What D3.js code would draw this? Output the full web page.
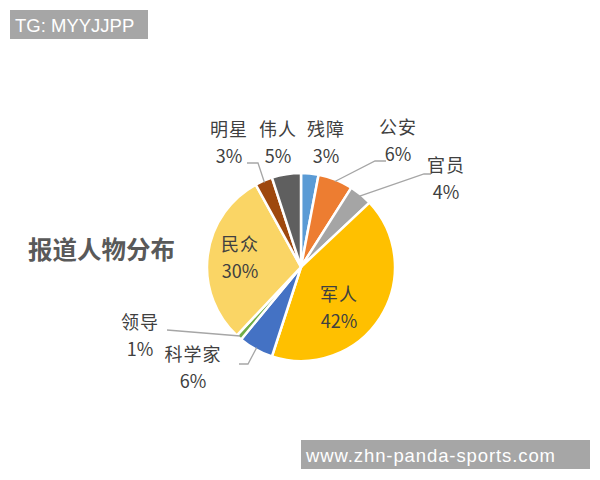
<!DOCTYPE html>
<html><head><meta charset="utf-8">
<script src="https://cdn.jsdelivr.net/npm/d3@7"></script>
<style>body{margin:0;background:#fff;}svg{display:block;}</style>
</head><body>
<svg id="c" width="600" height="480"></svg>
<script>
const categories = ["残障","公安","官员","军人","科学家","领导","民众","明星","伟人"];
const values = [3,6,4,42,6,1,30,3,5];
const colors = ["#5B9BD5","#ED7D31","#A5A5A5","#FFC000","#4472C4","#70AD47","#FAD565","#9E480E","#5F5F5F"];
const title = "报道人物分布";

// layout (not data): label anchor positions and leader-line bends
const layout = {
  "残障": {x:326, y:130, line:null},
  "公安": {x:398, y:128, line:[[386,161],[375,161]]},
  "官员": {x:446, y:166, line:[[431,174],[424,174]]},
  "军人": {x:339, y:295},
  "科学家": {x:193, y:355, line:[[239,364],[248,364]]},
  "领导": {x:140, y:323, line:[[167,330]]},
  "民众": {x:240, y:245},
  "明星": {x:229, y:130, line:[[247,163],[258,163]]},
  "伟人": {x:278, y:130, line:null}
};

const svg = d3.select("#c");
const cx = 301, cy = 267, R = 94;
const data = categories.map((c,i)=>({name:c, value:values[i], color:colors[i]}));
const pie = d3.pie().sort(null).value(d=>d.value);
const arcs = pie(data);
const arc = d3.arc().innerRadius(0).outerRadius(R);
const g = svg.append("g").attr("transform",`translate(${cx},${cy})`);
g.selectAll("path").data(arcs).join("path")
  .attr("d",arc).attr("fill",d=>d.data.color)
  .attr("stroke","#fff").attr("stroke-width",2.5).attr("stroke-linejoin","round");

// leader lines
arcs.forEach(a=>{
  const L = layout[a.data.name];
  if(!L || !L.line) return;
  const mid = (a.startAngle+a.endAngle)/2;
  const p = [cx + Math.sin(mid)*(R-2), cy - Math.cos(mid)*(R-2)];
  const pts = L.line.concat([p]);
  svg.append("path").attr("d", d3.line()(pts))
    .attr("fill","none").attr("stroke","#A6A6A6").attr("stroke-width",1.3);
});

// labels
const font = "'Noto Sans CJK SC','Microsoft YaHei',sans-serif";
arcs.forEach(a=>{
  const L = layout[a.data.name];
  const t = svg.append("text").attr("text-anchor","middle")
    .attr("font-family",font).attr("font-size",18).attr("fill","#404040");
  t.append("tspan").attr("x",L.x).attr("y",L.y+6).attr("letter-spacing",1).text(a.data.name);
  t.append("tspan").attr("x",L.x).attr("y",L.y+33).text(a.data.value+"%");
});

svg.append("text").attr("x",28).attr("y",259).attr("font-family",font)
  .attr("font-size",24.5).attr("font-weight",600).attr("fill","#595959").text(title);

// watermark boxes
svg.append("rect").attr("x",10).attr("y",10).attr("width",138).attr("height",29).attr("fill","#A6A6A6");
svg.append("text").attr("x",15).attr("y",32).attr("font-family","'Liberation Sans',Arial,sans-serif")
  .attr("font-size",18.5).attr("fill","#fff").text("TG: MYYJJPP");
svg.append("rect").attr("x",301).attr("y",440).attr("width",289).attr("height",29).attr("fill","#A6A6A6");
svg.append("text").attr("x",306).attr("y",462).attr("font-family","'Liberation Sans',Arial,sans-serif")
  .attr("font-size",18.5).attr("fill","#fff").attr("textLength",249).text("www.zhn-panda-sports.com");
</script>
</body></html>
